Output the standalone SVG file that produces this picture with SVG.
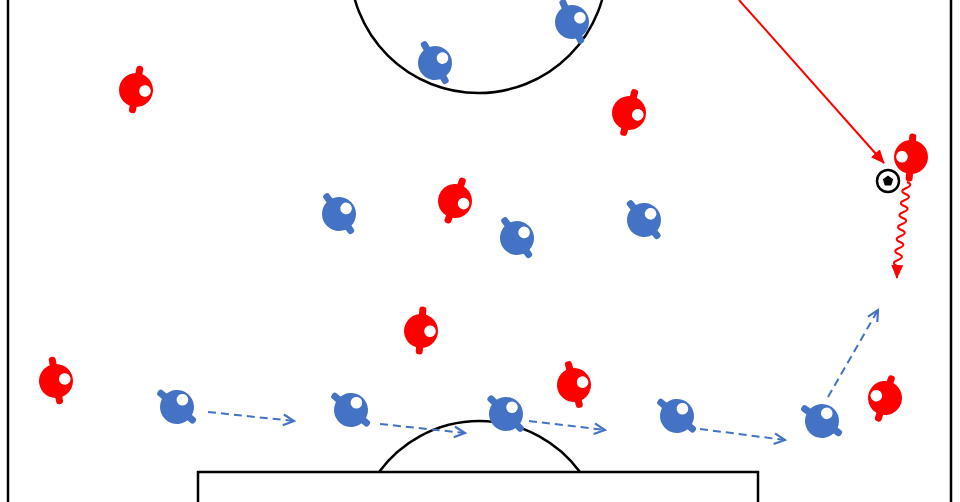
<svg xmlns="http://www.w3.org/2000/svg" xmlns:xlink="http://www.w3.org/1999/xlink" width="960" height="502" viewBox="0 0 960 502">
  <style>
    .line { fill: none; stroke: #000; stroke-width: 2.5; }
    .red { color: #FF0000; }
    .blue { color: #4472C4; }
    .run { fill: none; stroke: #4472C4; stroke-width: 2; stroke-dasharray: 8 5; }
    .pass { fill: none; stroke: #FF0000; stroke-width: 2; }
  </style>
  <defs>
    <g id="player">
      <rect x="-3.5" y="-24.5" width="7" height="12" rx="3" fill="currentColor"/>
      <rect x="-3.5" y="12" width="7" height="11.5" rx="3" fill="currentColor"/>
      <circle r="17" fill="currentColor"/>
      <circle cx="9" cy="-0.5" r="5.8" fill="#fff"/>
    </g>
    <marker id="chev" markerUnits="userSpaceOnUse" markerWidth="14" markerHeight="14" viewBox="-1 -1 13 12" refX="10" refY="5" orient="auto">
      <path d="M0,0 L10,5 L0,10" fill="none" stroke="#4472C4" stroke-width="2"/>
    </marker>
    <marker id="tri" markerUnits="userSpaceOnUse" markerWidth="14" markerHeight="12" viewBox="0 0 14 12" refX="13" refY="6" orient="auto">
      <path d="M0,0 L14,6 L0,12 z" fill="#FF0000"/>
    </marker>
  </defs>
  <rect width="960" height="502" fill="#fff"/>
  <g id="pitch">
    <line class="line" x1="8" y1="0" x2="8" y2="502"/>
    <line class="line" x1="951" y1="0" x2="951" y2="502"/>
    <circle class="line" cx="478.5" cy="-35.5" r="128.5"/>
    <rect class="line" x="198" y="472" width="560" height="40"/>
    <path class="line" d="M379,472 A124.5,124.5 0 0 1 580,472"/>
  </g>
  <g id="connectors">
    <line class="run" x1="208" y1="412" x2="294" y2="421" marker-end="url(#chev)"/>
    <line class="run" x1="380" y1="424" x2="465" y2="433" marker-end="url(#chev)"/>
    <line class="run" x1="529" y1="421" x2="605" y2="430" marker-end="url(#chev)"/>
    <line class="run" x1="700" y1="429" x2="785" y2="440" marker-end="url(#chev)"/>
    <line class="run" x1="828" y1="397" x2="878" y2="310" marker-end="url(#chev)"/>
    <line class="pass" x1="739" y1="0" x2="884" y2="163" marker-end="url(#tri)"/>
    <path class="pass" d="M907,182 q7,3 -0.7,6 t-0.7,6 t-0.7,6 t-0.7,6 t-0.7,6 t-0.7,6 t-0.7,6 t-0.7,6 t-0.7,6 t-0.7,6 t-0.7,6 t-0.7,6 t-0.7,6 t-0.7,6 l-0.3,12" marker-end="url(#tri)"/>
  </g>
  <g id="ball">
    <circle cx="888" cy="181" r="11" fill="#fff" stroke="#000" stroke-width="2.5"/>
    <polygon points="888,175.5 893.2,179.3 891.2,185.4 884.8,185.4 882.8,179.3" fill="#000"/>
  </g>
  <g id="red1" class="red" transform="translate(136,90) rotate(10)"><use xlink:href="#player"/></g>
  <g id="red2" class="red" transform="translate(629,113) rotate(15)"><use xlink:href="#player"/></g>
  <g id="red3" class="red" transform="translate(455,201) rotate(20)"><use xlink:href="#player"/></g>
  <g id="red4" class="red" transform="translate(421,331) rotate(5)"><use xlink:href="#player"/></g>
  <g id="red5" class="red" transform="translate(56,381) rotate(-10)"><use xlink:href="#player"/></g>
  <g id="red6" class="red" transform="translate(574,385) rotate(-15)"><use xlink:href="#player"/></g>
  <g id="red7" class="red" transform="translate(885,398) rotate(198)"><use xlink:href="#player"/></g>
  <g id="red8" class="red" transform="translate(911,157) rotate(185)"><use xlink:href="#player"/></g>
  <g id="blue1" class="blue" transform="translate(435,63) rotate(-30)"><use xlink:href="#player"/></g>
  <g id="blue2" class="blue" transform="translate(572,22) rotate(-25)"><use xlink:href="#player"/></g>
  <g id="blue3" class="blue" transform="translate(339,214) rotate(-35)"><use xlink:href="#player"/></g>
  <g id="blue4" class="blue" transform="translate(517,238) rotate(-35)"><use xlink:href="#player"/></g>
  <g id="blue5" class="blue" transform="translate(644,220) rotate(-40)"><use xlink:href="#player"/></g>
  <g id="blue6" class="blue" transform="translate(177,407) rotate(-50)"><use xlink:href="#player"/></g>
  <g id="blue7" class="blue" transform="translate(351,410) rotate(-50)"><use xlink:href="#player"/></g>
  <g id="blue8" class="blue" transform="translate(506,414) rotate(-45)"><use xlink:href="#player"/></g>
  <g id="blue9" class="blue" transform="translate(677,416) rotate(-50)"><use xlink:href="#player"/></g>
  <g id="blue10" class="blue" transform="translate(822,421) rotate(-55)"><use xlink:href="#player"/></g>
</svg>
